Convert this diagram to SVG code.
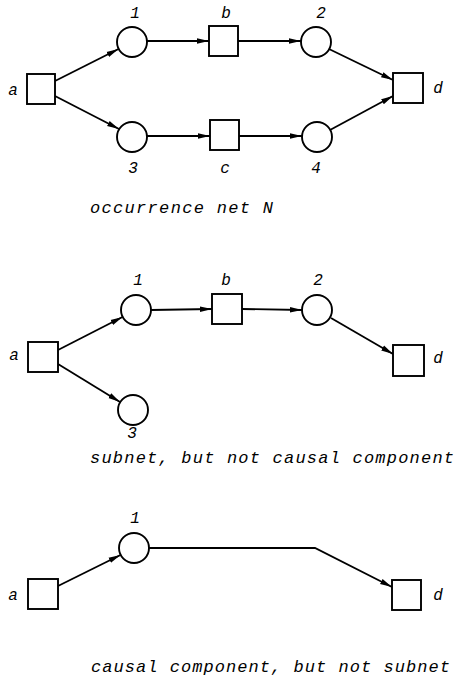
<svg xmlns="http://www.w3.org/2000/svg" width="455" height="686" viewBox="0 0 455 686">
<style>
.p{fill:#fff;stroke:#000;stroke-width:1.9}
.t{fill:#fff;stroke:#000;stroke-width:1.9}
.e{fill:none;stroke:#000;stroke-width:1.8}
.l{font-family:"Liberation Mono","DejaVu Sans Mono",monospace;font-style:italic;font-size:16px;fill:#000;text-anchor:middle}
.c{font-family:"Liberation Mono","DejaVu Sans Mono",monospace;font-style:italic;font-size:17px;fill:#000}
</style>
<defs>
<marker id="ah" markerUnits="userSpaceOnUse" markerWidth="14" markerHeight="10" refX="12" refY="4" orient="auto">
<path d="M0,1.2 L12,4 L0,6.8 Z" fill="#000"/>
</marker>
</defs>
<rect width="455" height="686" fill="#fff"/>

<g id="connectors" class="e" marker-end="url(#ah)">
<line x1="55" y1="81" x2="118.5" y2="49"/>
<line x1="55" y1="96" x2="119" y2="129"/>
<line x1="147" y1="41" x2="209" y2="41"/>
<line x1="238" y1="41" x2="301" y2="41"/>
<line x1="329" y1="49" x2="393" y2="80"/>
<line x1="147" y1="136" x2="210" y2="136"/>
<line x1="239" y1="136" x2="302" y2="136"/>
<line x1="330" y1="130" x2="393" y2="96"/>

<line x1="58" y1="350" x2="122.5" y2="317"/>
<line x1="58" y1="364" x2="120" y2="402"/>
<line x1="151" y1="310" x2="212" y2="309"/>
<line x1="242" y1="309" x2="302" y2="310"/>
<line x1="331" y1="318" x2="393" y2="354"/>

<line x1="58" y1="586" x2="120.5" y2="555"/>
<polyline points="149,548 315,548 392,587"/>
</g>

<g id="N-a"><rect class="t" x="27" y="74" width="28" height="30"/><text class="l" x="13" y="95">a</text></g>
<g id="N-1"><circle class="p" cx="132" cy="42" r="15"/><text class="l" x="135" y="18">1</text></g>
<g id="N-b"><rect class="t" x="209" y="26" width="29" height="30"/><text class="l" x="226" y="18">b</text></g>
<g id="N-2"><circle class="p" cx="316" cy="42" r="15"/><text class="l" x="321" y="18">2</text></g>
<g id="N-d"><rect class="t" x="393" y="73" width="30" height="30"/><text class="l" x="438" y="93">d</text></g>
<g id="N-3"><circle class="p" cx="132" cy="137" r="15"/><text class="l" x="133" y="173">3</text></g>
<g id="N-c"><rect class="t" x="210" y="120" width="29" height="30"/><text class="l" x="225" y="173">c</text></g>
<g id="N-4"><circle class="p" cx="317" cy="137" r="15"/><text class="l" x="316" y="173">4</text></g>
<text class="c" x="90" y="213" textLength="183" lengthAdjust="spacing">occurrence net N</text>

<g id="S-a"><rect class="t" x="28" y="342" width="30" height="30"/><text class="l" x="14" y="360">a</text></g>
<g id="S-1"><circle class="p" cx="136" cy="310" r="15"/><text class="l" x="138" y="285">1</text></g>
<g id="S-b"><rect class="t" x="212" y="294" width="30" height="30"/><text class="l" x="226" y="285">b</text></g>
<g id="S-2"><circle class="p" cx="317" cy="310" r="15"/><text class="l" x="318" y="285">2</text></g>
<g id="S-d"><rect class="t" x="393" y="345" width="31" height="31"/><text class="l" x="438" y="363">d</text></g>
<g id="S-3"><circle class="p" cx="133" cy="410" r="15"/><text class="l" x="132" y="438">3</text></g>
<text class="c" x="90" y="463" textLength="364" lengthAdjust="spacing">subnet, but not causal component</text>

<g id="C-a"><rect class="t" x="28" y="579" width="30" height="30"/><text class="l" x="13" y="600">a</text></g>
<g id="C-1"><circle class="p" cx="134" cy="548" r="15"/><text class="l" x="135" y="523">1</text></g>
<g id="C-d"><rect class="t" x="392" y="580" width="29" height="30"/><text class="l" x="438" y="600">d</text></g>
<text class="c" x="91" y="672" textLength="359" lengthAdjust="spacing">causal component, but not subnet</text>
</svg>
